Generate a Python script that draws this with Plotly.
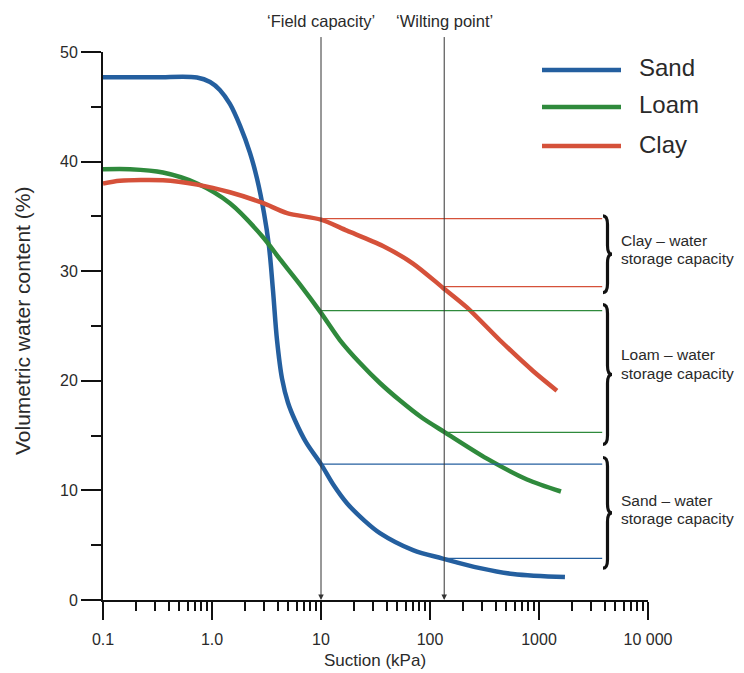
import math
import plotly.graph_objects as go

# ---------------- data ----------------
soil_names = ["Sand", "Loam", "Clay"]
soil_colors = ["#245f9f", "#2f8a3c", "#d5513a"]

sand_kpa = [0.1, 0.3, 0.728, 0.96, 1.18, 1.46, 1.81, 2.23, 2.59, 3.0, 3.33, 3.63, 3.95, 4.39,
            4.98, 5.77, 7.28, 10, 12.9, 17.3, 25.3, 34.7, 69.8, 131, 288, 577, 1730]
sand_vwc = [47.7, 47.7, 47.68, 47.27, 46.54, 45.26, 43.26, 40.8, 38.43, 35.3, 32.3, 28.2, 23.7,
            20.2, 18.0, 16.4, 14.4, 12.4, 10.56, 8.83, 7.2, 6.1, 4.55, 3.78, 2.91, 2.37, 2.09]

loam_kpa = [0.1, 0.177, 0.355, 0.73, 1.46, 2.94, 4.2, 6.4, 10, 14.9, 22.8, 34.7, 53.1, 84.5,
            137, 333, 776, 1590]
loam_vwc = [39.3, 39.3, 39.0, 38.0, 36.2, 33.1, 31.1, 28.8, 26.2, 23.72, 21.62, 19.8, 18.2,
            16.63, 15.3, 12.9, 11.0, 9.9]

clay_kpa = [0.1, 0.143, 0.355, 0.73, 1.46, 2.88, 4.88, 10, 17.3, 37, 69.8, 131, 218, 438,
            881, 1460]
clay_vwc = [38.0, 38.25, 38.3, 37.9, 37.2, 36.25, 35.3, 34.7, 33.7, 32.3, 30.7, 28.5, 26.7,
            23.7, 20.9, 19.1]

field_capacity_kpa = 10
wilting_point_kpa = 135
capacity_line_end_kpa = 3800
# water content at field capacity / wilting point (Sand, Loam, Clay)
fc_vwc = [12.4, 26.4, 34.8]
wp_vwc = [3.8, 15.3, 28.6]

x_tick_vals = [0.1, 1, 10, 100, 1000, 10000]
x_tick_text = ["0.1", "1.0", "10", "100", "1000", "10 000"]
y_tick_vals = [0, 10, 20, 30, 40, 50]

x_title = "Suction (kPa)"
y_title = "Volumetric water content (%)"
marker_labels = ["\u2018Field capacity\u2019", "\u2018Wilting point\u2019"]
storage_labels = [["Sand \u2013 water", "storage capacity"],
                  ["Loam \u2013 water", "storage capacity"],
                  ["Clay \u2013 water", "storage capacity"]]

# ---------------- figure ----------------
FONT = "Liberation Sans, Arial, Helvetica, sans-serif"
TXT = "#2a2a2a"
OFF = 8                      # page body margin offset of the plot div
W, H = 744 - OFF, 673 - OFF
L, T = 103 - OFF, 52 - OFF   # plot area left/top in figure pixels
R = W - (648 - OFF)
B = H - (600 - OFF)
PW, PH = W - L - R, H - T - B


def px2paper_x(px):
    """screen x pixel -> paper x"""
    return (px - OFF - L) / PW


def py2paper_y(py):
    """screen y pixel -> paper y"""
    return (H - B - (py - OFF)) / PH


series_x = [sand_kpa, loam_kpa, clay_kpa]
series_y = [sand_vwc, loam_vwc, clay_vwc]
smooth = [1.0, 0.8, 0.8]

fig = go.Figure()
for name, col, xs, ys, sm in zip(soil_names, soil_colors, series_x, series_y, smooth):
    fig.add_trace(go.Scatter(x=xs, y=ys, name=name, mode="lines",
                             line=dict(color=col, width=4.5, shape="spline", smoothing=sm),
                             hoverinfo="x+y+name"))

shapes = []
annotations = []

# thin horizontal storage-capacity lines
for col, f, w in zip(soil_colors, fc_vwc, wp_vwc):
    shapes.append(dict(type="line", xref="x", yref="y", x0=field_capacity_kpa, x1=capacity_line_end_kpa,
                       y0=f, y1=f, line=dict(color=col, width=1.2)))
    shapes.append(dict(type="line", xref="x", yref="y", x0=wilting_point_kpa, x1=capacity_line_end_kpa,
                       y0=w, y1=w, line=dict(color=col, width=1.2)))

# vertical arrows for field capacity / wilting point
for kpa, lab in zip([field_capacity_kpa, wilting_point_kpa], marker_labels):
    lx = math.log10(kpa)
    annotations.append(dict(x=lx, y=0, xref="x", yref="y", ax=lx, ay=51.5, axref="x", ayref="y",
                            text="", showarrow=True, arrowhead=2, arrowsize=1.1, arrowwidth=1,
                            arrowcolor="#333333", standoff=0))
    annotations.append(dict(x=lx, y=py2paper_y(21), xref="x", yref="paper", text=lab, showarrow=False,
                            font=dict(family=FONT, size=16.5, color=TXT), xanchor="center", yanchor="middle"))

# braces + labels (x in paper coords, y in data coords)
brace_spans = [(13.0, 2.9), (26.95, 14.2), (35.05, 28.05)]
label_centres = [8.29, 21.54, 31.97]
for (top, bot), lines, yc in zip(brace_spans, storage_labels, label_centres):
    x0 = px2paper_x(603)
    xm = px2paper_x(607.5)
    xe = px2paper_x(612)
    mid = (top + bot) / 2
    c = 0.8
    path = (f"M {x0},{top} Q {xm},{top} {xm},{top - c} L {xm},{mid + c} "
            f"Q {xm},{mid} {xe},{mid} Q {xm},{mid} {xm},{mid - c} "
            f"L {xm},{bot + c} Q {xm},{bot} {x0},{bot}")
    shapes.append(dict(type="path", xref="paper", yref="y", path=path,
                       line=dict(color="#111111", width=3.2)))
    for i, ln in enumerate(lines):
        annotations.append(dict(x=px2paper_x(619), y=yc + 0.83 - 1.66 * i, xref="paper", yref="y", text=ln,
                                showarrow=False, align="left", xanchor="left", yanchor="middle",
                                font=dict(family=FONT, size=15.5, color=TXT)))

# manual legend
legend_py = [70, 107, 146]
for name, col, py in zip(soil_names, soil_colors, legend_py):
    yp = py2paper_y(py)
    shapes.append(dict(type="line", xref="paper", yref="paper", x0=px2paper_x(542), x1=px2paper_x(621),
                       y0=yp, y1=yp, line=dict(color=col, width=4.5)))
    annotations.append(dict(x=px2paper_x(637), y=py2paper_y(py - 2), xref="paper", yref="paper", text=name,
                            showarrow=False, xanchor="left", yanchor="middle",
                            font=dict(family=FONT, size=24, color=TXT)))

# axis titles
annotations.append(dict(x=px2paper_x(375), y=py2paper_y(660), xref="paper", yref="paper", text=x_title,
                        showarrow=False, xanchor="center", yanchor="middle",
                        font=dict(family=FONT, size=17, color=TXT)))
annotations.append(dict(x=px2paper_x(22), y=py2paper_y(321), xref="paper", yref="paper", text=y_title,
                        showarrow=False, xanchor="center", yanchor="middle", textangle=-90,
                        font=dict(family=FONT, size=21, color=TXT)))

fig.update_layout(
    width=W, height=H,
    margin=dict(l=L, r=R, t=T, b=B, autoexpand=False),
    paper_bgcolor="white", plot_bgcolor="white",
    showlegend=False,
    font=dict(family=FONT, color=TXT),
    shapes=shapes, annotations=annotations,
)

fig.update_xaxes(type="log", range=[-1, 4], tickmode="array", tickvals=x_tick_vals, ticktext=x_tick_text,
                 ticks="outside", ticklen=18, tickwidth=2, tickcolor="#111111", automargin=False,
                 showline=True, linecolor="#111111", linewidth=2, showgrid=False, zeroline=False,
                 tickfont=dict(family=FONT, size=16, color=TXT), ticklabelstandoff=6,
                 minor=dict(ticks="outside", ticklen=9, tickwidth=2, tickcolor="#111111",
                            tickmode="linear", dtick="D1", showgrid=False))

fig.update_yaxes(range=[0, 50], tickmode="array", tickvals=y_tick_vals,
                 ticks="outside", ticklen=20, tickwidth=2, tickcolor="#111111", automargin=False,
                 showline=True, linecolor="#111111", linewidth=2, showgrid=False, zeroline=False,
                 tickfont=dict(family=FONT, size=16, color=TXT),
                 minor=dict(ticks="outside", ticklen=10, tickwidth=2, tickcolor="#111111",
                            tickmode="linear", dtick=5, showgrid=False))

fig.write_html("out.html")
